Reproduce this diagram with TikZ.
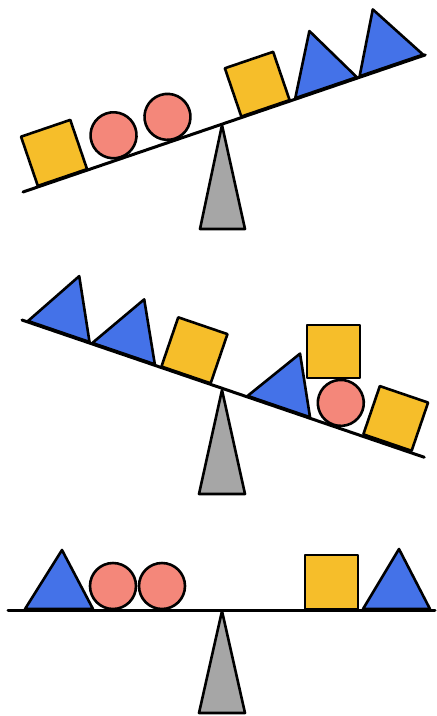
\documentclass[tikz,border=0pt]{standalone}
\definecolor{sqyellow}{HTML}{F6BE2A}
\definecolor{triblue}{HTML}{4472E8}
\definecolor{ballred}{HTML}{F4877A}
\definecolor{fulgray}{HTML}{A6A6A6}
\tikzset{
  outl/.style={draw=black, line width=2.6pt, line join=round},
  sqshape/.style={outl, fill=sqyellow},
  trishape/.style={outl, fill=triblue},
  ballshape/.style={outl, fill=ballred},
  fulshape/.style={outl, fill=fulgray},
  beamline/.style={draw=black, line width=3pt, line cap=round}
}
\newcommand{\sqat}[3]{\draw[sqshape] (#1,-#2) rectangle (#1+#3,-#2-#3);}
\newcommand{\triat}[4]{\draw[trishape] (#1,-1) -- (#2,-1) -- (#3,-#4) -- cycle;}
\newcommand{\ballat}[2]{\draw[ballshape] (#1,-#2) circle[radius=23];}
\begin{document}
\begin{tikzpicture}[x=1pt,y=-1pt]
\useasboundingbox (0,0) rectangle (437,716);
% ---------- panel 1 ----------
\draw[fulshape] (222,125) -- (245,229) -- (200,229) -- cycle;
\begin{scope}[shift={(23,192)}, rotate=18.82]
  \draw[beamline] (0,0) -- (425,0);
  \sqat{16}{1}{52}
  \ballat{104}{24.5}
  \ballat{161}{24.5}
  \sqat{231}{1}{51}
  \triat{288}{353}{323}{60}
  \triat{356}{423}{390}{60}
\end{scope}
% ---------- panel 2 ----------
\draw[fulshape] (222,390) -- (245,494) -- (199,494) -- cycle;
\begin{scope}[shift={(22,320)}, rotate=-18.84]
  \draw[beamline] (0,0) -- (425,0);
  \triat{6}{71}{40}{60}
  \triat{74}{140}{109}{59}
  \sqat{147}{1}{52}
  \triat{238}{304}{274}{58}
  \ballat{328.5}{24.5}
  \sqat{360}{2}{51}
\end{scope}
\draw[sqshape] (307,325) rectangle (360,378);
% ---------- panel 3 ----------
\draw[fulshape] (222,611) -- (245,713) -- (199,713) -- cycle;
\draw[beamline] (8,610) -- (435,610);
\draw[trishape] (25,609) -- (93,609) -- (62,550) -- cycle;
\draw[ballshape] (113,586) circle[radius=23];
\draw[ballshape] (162,586) circle[radius=23];
\draw[sqshape] (305,555) rectangle (358,609);
\draw[trishape] (363,609) -- (430,609) -- (399,549) -- cycle;
\end{tikzpicture}
\end{document}
